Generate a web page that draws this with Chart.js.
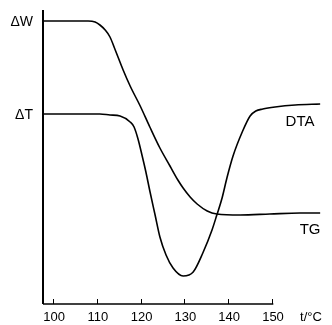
<!DOCTYPE html>
<html>
<head>
<meta charset="utf-8">
<script src="https://cdn.jsdelivr.net/npm/chart.js@4.4.0/dist/chart.umd.min.js"></script>
<style>
    body { margin: 0; background: #fff; }
    #chart { display: block; }
</style>
</head>
<body>
<canvas id="chart" width="332" height="325"></canvas>
<script>
// temperature (°C) vs. signal (arbitrary units)
const tgTemp = [97.7, 108.0, 109.6, 110.7, 111.9, 113.0, 114.2, 116.0, 117.6, 119.9, 122.1, 124.4, 126.7, 128.5, 129.7, 131.3, 132.9, 135.2, 137.4, 142.7, 149.5, 156.4, 161.0];
const tgValue = [283, 283, 282, 279, 274, 267, 254, 234, 218, 198, 177, 156, 138, 124, 116, 107, 100, 93, 90, 89, 90, 91, 91];

const dtaTemp = [97.7, 110.7, 113.0, 115.3, 117.6, 118.5, 119.4, 120.3, 121.2, 122.1, 123.3, 124.4, 125.8, 127.4, 129.7, 132.0, 134.2, 136.3, 137.4, 138.6, 139.7, 141.1, 143.2, 145.0, 146.3, 147.9, 150.7, 155.3, 161.0];
const dtaValue = [190, 190, 189, 188, 182, 177, 165, 149, 132, 113, 89, 67, 49, 36, 28, 32, 51, 74, 89, 106, 126, 148, 172, 188, 193, 195, 197, 199, 200];

const xTicks = [100, 110, 120, 130, 140, 150];
const xUnitPos = 158.9;
const xUnitLabel = 't/°C';
const yTickValues = [283, 190];
const yTickLabels = ['ΔW', 'ΔT'];

const curveLabels = [
    { text: 'DTA', x: 156.4, y: 182 },
    { text: 'TG', x: 158.7, y: 74 }
];

function toPoints(xs, ys) {
    return xs.map((x, i) => ({ x: x, y: ys[i] }));
}

// axes drawn by hand: short x axis, inward ticks, labels
const axesPlugin = {
    id: 'axesPlugin',
    afterDraw(chart) {
        const c = chart.ctx;
        const xs = chart.scales.x;
        const ys = chart.scales.y;
        const area = chart.chartArea;
        c.save();
        c.strokeStyle = '#000';
        c.lineWidth = 2;
        c.beginPath();
        c.moveTo(area.left, area.top);
        c.lineTo(area.left, area.bottom);
        c.stroke();

        c.lineWidth = 1.5;
        c.beginPath();
        c.moveTo(area.left, area.bottom);
        c.lineTo(xs.getPixelForValue(150.3), area.bottom);
        c.stroke();

        c.lineWidth = 1;
        xTicks.forEach(t => {
            const px = Math.round(xs.getPixelForValue(t)) + 0.5;
            c.beginPath();
            c.moveTo(px, area.bottom);
            c.lineTo(px, area.bottom - 5);
            c.stroke();
        });

        c.fillStyle = '#000';
        c.textBaseline = 'middle';

        // x tick labels
        c.font = '13px "Liberation Sans", Arial, sans-serif';
        c.textAlign = 'center';
        xTicks.forEach(t => {
            c.fillText(String(t), xs.getPixelForValue(t) + 1, area.bottom + 13);
        });
        c.fillText(xUnitLabel, xs.getPixelForValue(xUnitPos), area.bottom + 13);

        // y labels
        c.font = '14px "Liberation Sans", Arial, sans-serif';
        c.textAlign = 'right';
        yTickValues.forEach((v, i) => {
            c.fillText(yTickLabels[i], area.left - 10, ys.getPixelForValue(v) + 1);
        });

        // curve names
        c.font = '15px "Liberation Sans", Arial, sans-serif';
        c.textAlign = 'center';
        curveLabels.forEach(l => {
            c.fillText(l.text, xs.getPixelForValue(l.x), ys.getPixelForValue(l.y));
        });
        c.restore();
    }
};

const ctx = document.getElementById('chart').getContext('2d');
new Chart(ctx, {
    type: 'line',
    data: {
        datasets: [
            {
                label: 'TG',
                data: toPoints(tgTemp, tgValue),
                borderColor: '#000',
                borderWidth: 1.6,
                pointRadius: 0,
                cubicInterpolationMode: 'monotone',
                fill: false
            },
            {
                label: 'DTA',
                data: toPoints(dtaTemp, dtaValue),
                borderColor: '#000',
                borderWidth: 1.6,
                pointRadius: 0,
                cubicInterpolationMode: 'monotone',
                fill: false
            }
        ]
    },
    options: {
        responsive: false,
        animation: false,
        devicePixelRatio: 1,
        layout: { padding: { left: 0, right: 11, top: 10, bottom: 0 } },
        plugins: {
            legend: { display: false },
            tooltip: { enabled: false }
        },
        scales: {
            x: {
                type: 'linear',
                min: 97.7,
                max: 161.19,
                grid: { display: false, drawTicks: false },
                border: { display: false },
                ticks: { display: false },
                afterFit: function (scale) { scale.height = 21; }
            },
            y: {
                type: 'linear',
                min: 0,
                max: 294,
                grid: { display: false, drawTicks: false },
                border: { display: false },
                ticks: { display: false },
                afterFit: function (scale) { scale.width = 43; }
            }
        }
    },
    plugins: [axesPlugin]
});
</script>
</body>
</html>
